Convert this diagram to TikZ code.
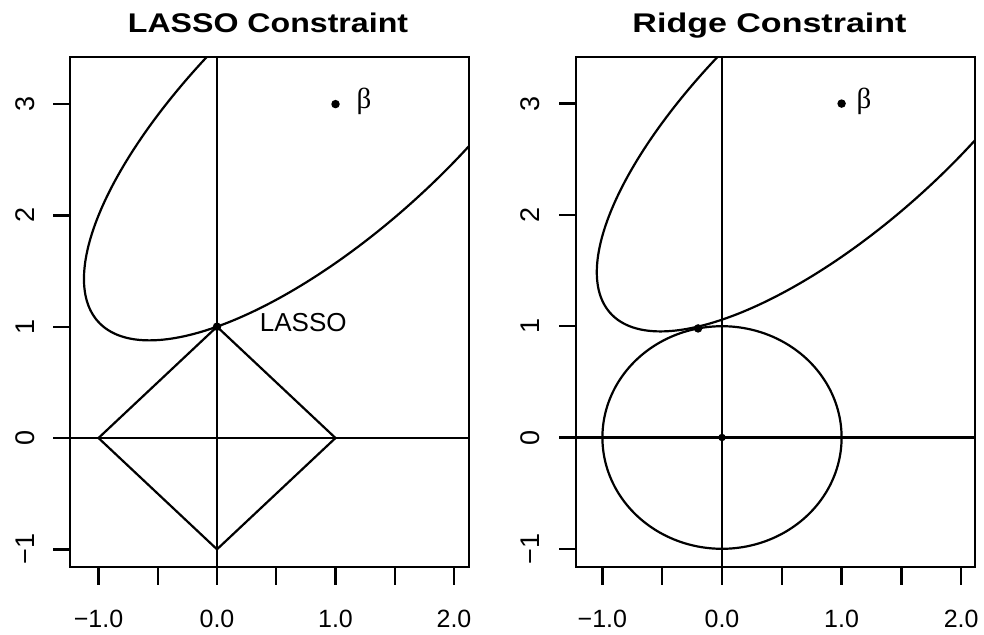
\documentclass[tikz,border=0pt]{standalone}
\usepackage{fontspec}
\usepackage{graphicx}
\setmainfont{Liberation Sans}
\newfontfamily\grkfont{Liberation Serif}
\tikzset{
  frame/.style={line width=2.4pt},
  curve/.style={line width=2.2pt},
  tickmark/.style={line width=2.4pt},
  ticklabel/.style={font=\fontsize{25}{25}\selectfont, inner sep=0pt},
  yticklabel/.style={font=\fontsize{27}{27}\selectfont, inner sep=0pt, rotate=90},
  titletext/.style={font=\fontsize{27}{27}\selectfont\bfseries, inner sep=0pt, anchor=base},
  dotmark/.style={circle, fill=black, inner sep=0pt, minimum size=8.5pt},
  betatext/.style={font=\fontsize{29}{29}\selectfont\grkfont, inner sep=0pt},
  plottext/.style={font=\fontsize{26}{26}\selectfont, inner sep=0pt}
}
\begin{document}
\begin{tikzpicture}[x=1pt,y=-1pt]
\useasboundingbox (0,0) rectangle (984,634);
\fill[white] (0,0) rectangle (984,634);

% titles
\node[titletext] (Ltitle) at (268,33) {\scalebox{1.19}[1]{LASSO Constraint}};
\node[titletext] (Rtitle) at (769.5,33) {\scalebox{1.26}[1]{Ridge Constraint}};

% ---------------- left panel ----------------
\begin{scope}[shift={(217,438)}, x=118.5pt, y=111.3pt]
  \coordinate (LBL) at (-1.2405,-1.159);
  \coordinate (LTR) at (2.1266,3.423);
  \begin{scope}
    \clip (LBL) rectangle (LTR);
    \draw[curve] (0,-1.159) -- (0,3.423);
    \draw[curve] (-1.2405,0) -- (2.1266,0);
    \draw[curve, line join=miter] (1,0) -- (0,1) -- (-1,0) -- (0,-1) -- cycle;
    \draw[curve, domain=0:360, samples=300, variable=\t]
      plot ({1+0.7071*(2.8*cos(\t)-1.083*sin(\t))},{3+0.7071*(2.8*cos(\t)+1.083*sin(\t))});
  \end{scope}
  \draw[frame] (LBL) rectangle (LTR);
  \foreach \v in {-1,-0.5,...,2.01} \draw[tickmark] (\v,-1.159) -- (\v,-1.3207);
  \foreach \v/\l in {-1/−1.0,0/0.0,1/1.0,2/2.0}
    \node[ticklabel] (Lx\v) at (\v,-1.626) {\l};
  \foreach \v in {-1,0,1,2,3} {
    \draw[tickmark] (-1.2405,\v) -- (-1.384,\v);
    \node[yticklabel] (Ly\v) at (-1.62,\v) {\ifnum\v<0 −1\else\v\fi};
  }
  \node[dotmark] (Lbeta) at (1,3) {};
  \node[betatext] (Lbetalab) at (1.2405,3.023) {β};
  \node[dotmark] (Lsol) at (0,1) {};
  \node[plottext] (Llasso) at (0.728,1.033) {LASSO};
\end{scope}

% ---------------- right panel ----------------
\begin{scope}[shift={(722,437.5)}, x=119.6pt, y=111.3pt]
  \coordinate (RBL) at (-1.2207,-1.1635);
  \coordinate (RTR) at (2.1154,3.4187);
  \begin{scope}
    \clip (RBL) rectangle (RTR);
    \draw[curve] (0,-1.1635) -- (0,3.4187);
    \draw[curve] (-1.2207,0) -- (2.1154,0);
    \draw[curve, domain=0:360, samples=200, variable=\t]
      plot ({cos(\t)},{sin(\t)});
    \draw[curve, domain=0:360, samples=300, variable=\t]
      plot ({1+0.7071*(2.70*cos(\t)-1.044*sin(\t))},{3+0.7071*(2.70*cos(\t)+1.044*sin(\t))});
  \end{scope}
  \draw[frame] (RBL) rectangle (RTR);
  \foreach \v in {-1,-0.5,...,2.01} \draw[tickmark] (\v,-1.1635) -- (\v,-1.3252);
  \foreach \v/\l in {-1/−1.0,0/0.0,1/1.0,2/2.0}
    \node[ticklabel] (Rx\v) at (\v,-1.6307) {\l};
  \foreach \v in {-1,0,1,2,3} {
    \draw[tickmark] (-1.2207,\v) -- (-1.3629,\v);
    \node[yticklabel] (Ry\v) at (-1.605,\v) {\ifnum\v<0 −1\else\v\fi};
  }
  \node[dotmark] (Rbeta) at (1,3) {};
  \node[betatext] (Rbetalab) at (1.187,3.019) {β};
  \node[dotmark] (Rsol) at (-0.2,0.98) {};
  \node[dotmark, minimum size=7.5pt] (Rorigin) at (0,0) {};
\end{scope}
\end{tikzpicture}
\end{document}
